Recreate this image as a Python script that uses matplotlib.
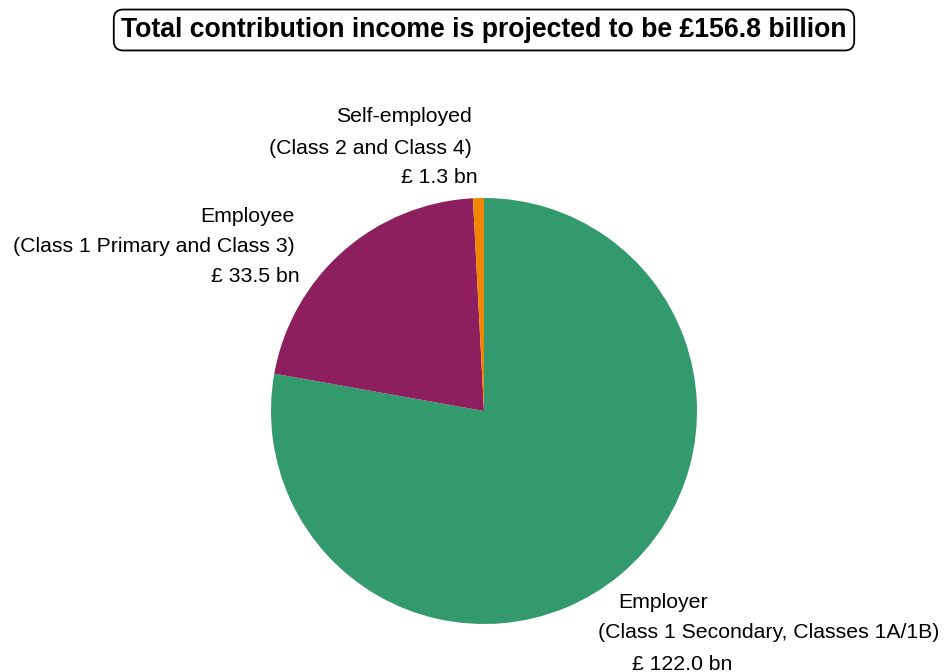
import matplotlib
matplotlib.use("Agg")
import matplotlib.pyplot as plt

# contribution income by class, £ bn
labels = ["Employer", "Employee", "Self-employed"]
details = ["(Class 1 Secondary, Classes 1A/1B)",
           "(Class 1 Primary and Class 3)",
           "(Class 2 and Class 4)"]
values = [122.0, 33.5, 1.3]
colors = ["#339A6E", "#8E1F5F", "#F28500"]
total = 156.8

W, H = 949, 672
plt.rcParams["font.family"] = ["Liberation Sans", "DejaVu Sans"]

fig = plt.figure(figsize=(W / 100, H / 100), dpi=100)


def fx(px):
    return px / W


def fy(py):
    return 1 - py / H


# pie axes: centre (484, 411), radius 213 px
cx, cy, r = 484, 411, 213
ax = fig.add_axes([fx(cx - r), fy(cy + r), 2 * r / W, 2 * r / H])
ax.pie(values, colors=colors, startangle=90, counterclock=False,
       radius=1.0, wedgeprops=dict(linewidth=0))
ax.set_xlim(-1, 1)
ax.set_ylim(-1, 1)
ax.set_aspect("auto")
ax.axis("off")

fig.text(fx(484), fy(30), f"Total contribution income is projected to be £{total} billion",
         ha="center", va="center", fontsize=19.2, fontweight="bold",
         bbox=dict(boxstyle="round,pad=0.28,rounding_size=0.35",
                   fc="white", ec="black", lw=1.3))

# label lines: (text, x, y, ha)
label_lines = [
    (labels[2], 472, 117, "right"),
    (details[2], 472, 148, "right"),
    (f"£ {values[2]} bn", 478, 178, "right"),
    (labels[1], 295, 216, "right"),
    (details[1], 295, 246, "right"),
    (f"£ {values[1]} bn", 300, 277, "right"),
    (labels[0], 618, 602, "left"),
    (details[0], 598, 633, "left"),
    (f"£ {values[0]:.1f} bn", 632, 664, "left"),
]
for txt, x, y, ha in label_lines:
    fig.text(fx(x), fy(y), txt, ha=ha, va="center", fontsize=15.3)

fig.savefig("out.png", dpi=100)
